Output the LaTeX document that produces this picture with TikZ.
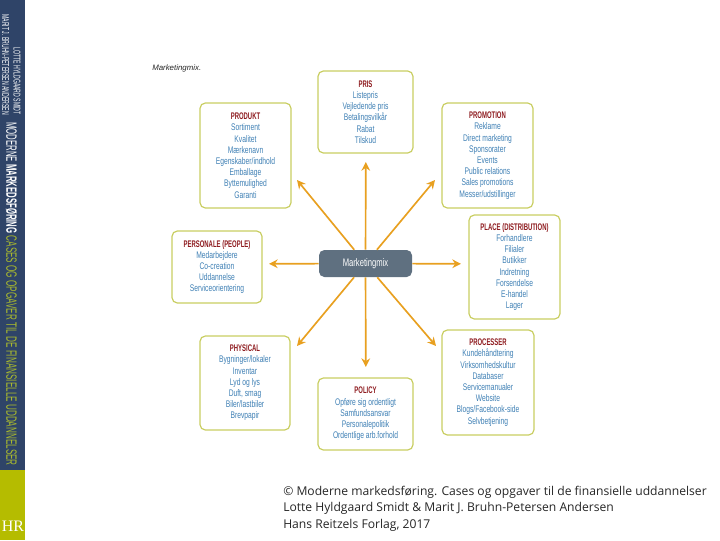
\documentclass[tikz,border=0pt]{standalone}
\usepackage{fontspec}
\setmainfont{Liberation Sans}
\newfontfamily\condf[FakeStretch=0.70]{Liberation Sans}
\newfontfamily\ttlf[FakeStretch=0.62]{Liberation Sans}
\newfontfamily\sidef[FakeStretch=0.52]{Liberation Sans}
\newfontfamily\sideg[FakeStretch=0.545]{Liberation Sans}
\newfontfamily\capf{Open Sans}
\newfontfamily\serf{Liberation Serif}
\usetikzlibrary{arrows.meta}
\definecolor{navy}{HTML}{2F4468}
\definecolor{olive}{HTML}{B5BC00}
\definecolor{lime}{HTML}{A9B92E}
\definecolor{frame}{HTML}{C9CE62}
\definecolor{hub}{HTML}{5F7080}
\definecolor{amber}{HTML}{E8A020}
\definecolor{ttl}{HTML}{8E1B1F}
\definecolor{itm}{HTML}{3F80B5}
\tikzset{
  mbox/.style 2 args={draw=frame,line width=0.9pt,rounded corners=4pt,fill=white,
    minimum width=#1*0.75pt,minimum height=#2*0.75pt,inner sep=0pt,align=center,
    font=\condf\fontsize{7.2}{8.4}\selectfont,text=itm},
  hubbox/.style={fill=hub,rounded corners=4pt,minimum width=69.75pt,minimum height=20.25pt,
    inner sep=0pt,text=white,font=\condf\fontsize{8.2}{9}\selectfont},
  arrowline/.style={draw=amber,color=amber,line width=1.25pt,-{Stealth[length=6.5pt,width=6.5pt]}},
  sideline/.style={rotate=-90,anchor=east,inner sep=0pt,font=\sidef\fontsize{7.4}{8}\selectfont,text=white},
  sidetitle/.style={rotate=-90,anchor=west,inner sep=0pt,font=\sidef\fontsize{11.2}{12}\selectfont},
  capline/.style={anchor=west,inner sep=0pt,font=\capf\fontsize{9.1}{10}\selectfont,text=black!85}
}
\newcommand{\ttlline}[1]{{\ttlf\bfseries\textcolor{ttl}{#1}}}
\begin{document}
\begin{tikzpicture}[x=0.75pt,y=-0.75pt]
\useasboundingbox (0,0) rectangle (720,540);
% sidebar
\fill[navy] (0,0) rectangle (25,470);
\fill[olive] (0,470) rectangle (25,540);
\node[sideline] (author1) at (17,115) {LOTTE HYLDGAARD SMIDT};
\node[sideline] (author2) at (5.5,115) {MARIT J. BRUHN-PETERSEN ANDERSEN};
\node[sidetitle] (booktitle) at (11.5,122) {\textcolor{white}{MODERNE \textbf{MARKEDSFØRING}} \textcolor{lime}{\sideg CASES OG OPGAVER TIL DE FINANSIELLE UDDANNELSER}};
\node[inner sep=0pt,text=white,font=\serf\fontsize{12}{12}\selectfont] (logo) at (13,526) {HR};
% heading
\node[inner sep=0pt,anchor=west,font=\itshape\fontsize{5.9}{8}\selectfont,text=black!85] (head) at (152,68) {Marketingmix.};
% arrow ends
\coordinate (tipN) at (365.8,162);
\coordinate (tipNW) at (297,180);
\coordinate (tipNE) at (435,180);
\coordinate (tipE) at (461,263.8);
\coordinate (tipW) at (269,263.8);
\coordinate (tipSW) at (297,346);
\coordinate (tipS) at (365.8,367);
\coordinate (tipSE) at (436,346);
\node[hubbox] (mix) at (365.5,263.5) {Marketingmix};
\foreach \t in {tipN,tipNW,tipNE,tipE,tipW,tipSW,tipS,tipSE}
  \draw[arrowline] (mix) -- (\t);
% boxes
\node[mbox={91}{105}] (produkt) at (245.5,155.5) {\ttlline{PRODUKT}\\Sortiment\\Kvalitet\\Mærkenavn\\Egenskaber/indhold\\Emballage\\Byttemulighed\\Garanti};
\node[mbox={95}{82}] (pris) at (365.5,112) {\ttlline{PRIS}\\Listepris\\Vejledende pris\\Betalingsvilkår\\Rabat\\Tilskud};
\node[mbox={91}{105}] (promotion) at (487.5,155.5) {\ttlline{PROMOTION}\\Reklame\\Direct marketing\\Sponsorater\\Events\\Public relations\\Sales promotions\\Messer/udstillinger};
\node[mbox={91}{104}] (place) at (514.5,267) {\ttlline{PLACE (DISTRIBUTION)}\\Forhandlere\\Filialer\\Butikker\\Indretning\\Forsendelse\\E-handel\\Lager};
\node[mbox={90}{72}] (personale) at (217,267) {\ttlline{PERSONALE (PEOPLE)}\\Medarbejdere\\Co-creation\\Uddannelse\\Serviceorientering};
\node[mbox={90}{94}] (physical) at (245,383) {\ttlline{PHYSICAL}\\Bygninger/lokaler\\Inventar\\Lyd og lys\\Duft, smag\\Biler/lastbiler\\Brevpapir};
\node[mbox={95}{72}] (policy) at (365.5,414) {\ttlline{POLICY}\\Opføre sig ordentligt\\Samfundsansvar\\Personalepolitik\\Ordentlige arb.forhold};
\node[mbox={92}{105}] (processer) at (488,382.5) {\ttlline{PROCESSER}\\Kundehåndtering\\Virksomhedskultur\\Databaser\\Servicemanualer\\Website\\Blogs/Facebook-side\\Selvbetjening};
% caption
\node[capline] (cap1) at (283,492) {© Moderne markedsføring. Cases og opgaver til de finansielle uddannelser};
\node[capline] (cap2) at (283,508) {Lotte Hyldgaard Smidt \& Marit J. Bruhn-Petersen Andersen};
\node[capline] (cap3) at (283,525) {Hans Reitzels Forlag, 2017};
\end{tikzpicture}
\end{document}
